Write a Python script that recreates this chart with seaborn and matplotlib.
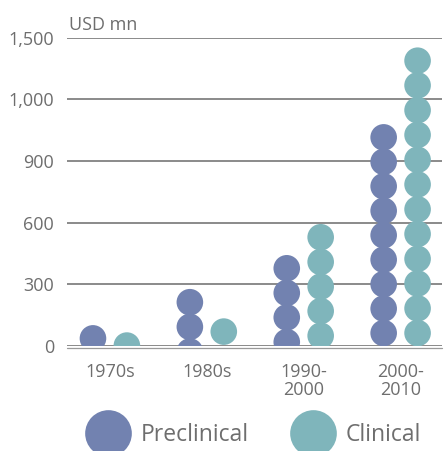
import matplotlib
matplotlib.use("Agg")
import matplotlib.pyplot as plt
from matplotlib.lines import Line2D
import seaborn as sns
import pandas as pd

# ---- data (circle centres, USD mn) ----
periods = ["1970s", "1980s", "1990-\n2000", "2000-\n2010"]
series = ["Preclinical", "Clinical"]

preclinical_1970s = [37]
preclinical_1980s = [-27, 93, 213]
preclinical_1990s = [19, 139, 258, 378]
preclinical_2000s = [63, 182, 301, 420, 539, 658, 777, 896, 1015]

clinical_1970s = [2]
clinical_1980s = [70]
clinical_1990s = [50, 170, 289, 409, 529]
clinical_2000s = [63, 183, 304, 424, 545, 665, 786, 906, 1027, 1147, 1268, 1388]

ytick_values = [0, 300, 600, 900, 1200, 1500]
ytick_labels = ["0", "300", "600", "900", "1,000", "1,500"]
unit_label = "USD mn"

colors = {"Preclinical": "#7282b0", "Clinical": "#7fb5bb"}
offsets = {"Preclinical": -0.175, "Clinical": 0.175}

pre = [preclinical_1970s, preclinical_1980s, preclinical_1990s, preclinical_2000s]
cli = [clinical_1970s, clinical_1980s, clinical_1990s, clinical_2000s]

rows = []
for i, p in enumerate(periods):
    for v in pre[i]:
        rows.append({"period": p, "series": "Preclinical", "x": i + offsets["Preclinical"], "value": v})
    for v in cli[i]:
        rows.append({"period": p, "series": "Clinical", "x": i + offsets["Clinical"], "value": v})
df = pd.DataFrame(rows)

sns.set_theme(style="white")
plt.rcParams["font.family"] = ["Open Sans", "DejaVu Sans"]
text_color = "#6e6e6e"
grid_color = "#777777"

fig = plt.figure(figsize=(4.46, 4.51), dpi=100)
ax = fig.add_axes([66.7 / 446, 1 - 346 / 451, (442 - 66.7) / 446, (346 - 37.7) / 451])

sns.scatterplot(data=df, x="x", y="value", hue="series", palette=colors,
                s=367, edgecolor="none", linewidth=0, legend=False, ax=ax, zorder=3)

ax.set_xlim(-0.446, 3.427)
ax.set_ylim(0, 1500)
ax.set_yticks(ytick_values)
ax.set_yticklabels(ytick_labels)
ax.set_xticks(range(len(periods)))
ax.set_xticklabels(periods, linespacing=0.95)
ax.set_xlabel("")
ax.set_ylabel("")
for s in ax.spines.values():
    s.set_visible(False)
ax.set_axisbelow(True)
ax.yaxis.grid(True, color=grid_color, linewidth=1.2)
ax.xaxis.grid(False)
ax.tick_params(axis="y", length=0, pad=9, labelsize=13, labelcolor=text_color)
ax.tick_params(axis="x", length=0, pad=12.5, labelsize=13, labelcolor=text_color)

# second thin baseline just under zero line
ax.plot([0, 1], [-0.007, -0.007], transform=ax.transAxes, color="#9a9a9a",
        linewidth=0.9, clip_on=False, zorder=4)

fig.text(69 / 446, 1 - 30 / 451, unit_label, fontsize=13, color=text_color,
         ha="left", va="baseline")

handles = [Line2D([], [], marker="o", linestyle="none", markersize=33.6,
                  markerfacecolor=colors[s], markeredgecolor="none", label=s)
           for s in series]
leg = fig.legend(handles=handles, loc="center", bbox_to_anchor=(253 / 446, 1 - 435 / 451),
                 ncol=2, frameon=False, fontsize=16.5, handlelength=2.0,
                 handletextpad=0.42, columnspacing=1.8, borderpad=0, borderaxespad=0)
for t in leg.get_texts():
    t.set_color(text_color)

fig.savefig("out.png", dpi=100)
